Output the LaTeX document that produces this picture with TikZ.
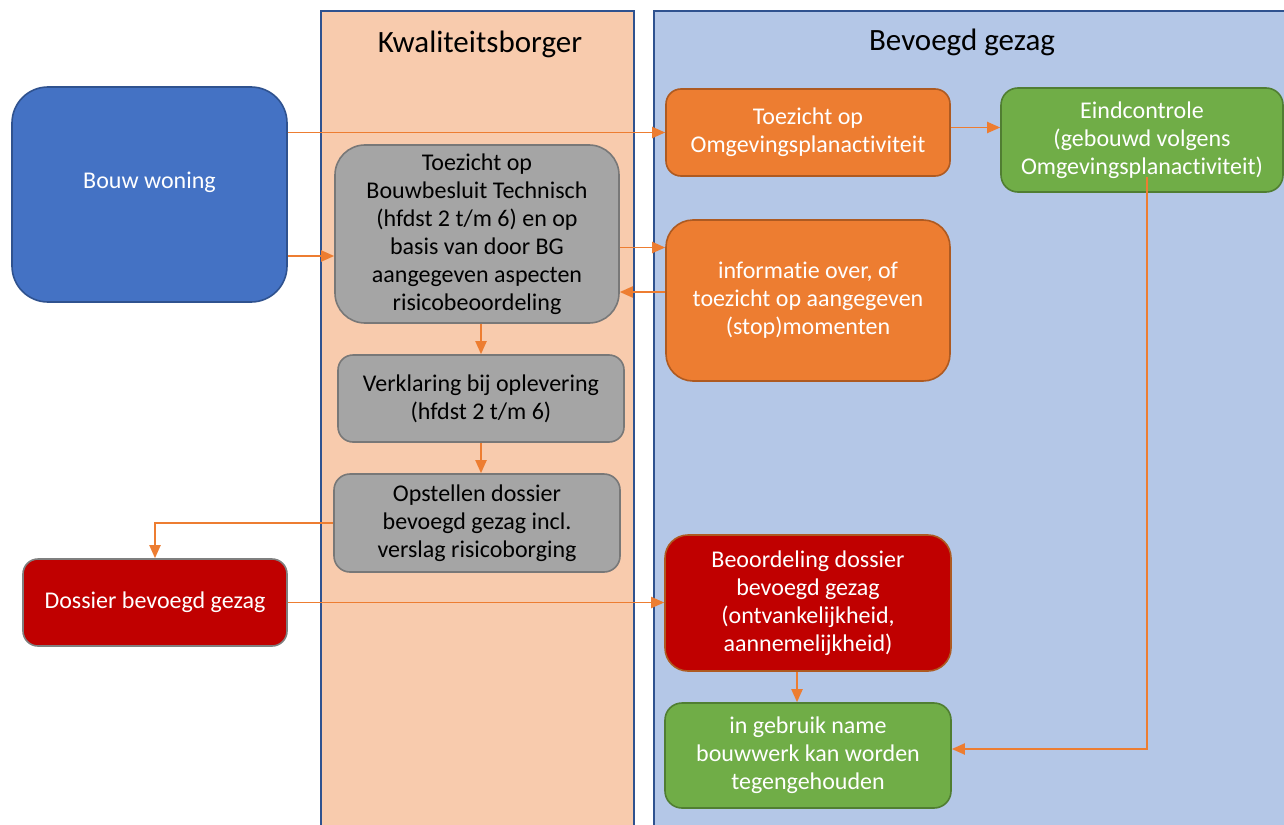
\documentclass[tikz,border=0pt]{standalone}
\usepackage{fontspec}
\setmainfont{Carlito}[Ligatures=NoCommon]
\usetikzlibrary{arrows.meta}
\definecolor{panK}{HTML}{F8CBAD}
\definecolor{panB}{HTML}{B4C7E7}
\definecolor{panLine}{HTML}{2F528F}
\definecolor{cBlue}{HTML}{4472C4}
\definecolor{cOrange}{HTML}{ED7D31}
\definecolor{cOrangeLine}{HTML}{AE5A21}
\definecolor{cGreen}{HTML}{70AD47}
\definecolor{cGreenLine}{HTML}{507E32}
\definecolor{cGrey}{HTML}{A5A5A5}
\definecolor{cGreyLine}{HTML}{787878}
\definecolor{cRed}{HTML}{C00000}
\definecolor{cRedLine}{HTML}{7F7F7F}
\begin{document}
\begin{tikzpicture}[x=1pt,y=-1pt,
  panel/.style={draw=panLine, line width=1.8pt, anchor=north west, inner sep=0pt},
  title/.style={font=\fontsize{31}{36}\selectfont, text=black, inner sep=0pt},
  box/.style={draw, line width=1.6pt, align=center, inner sep=0pt,
    font=\fontsize{24}{28}\selectfont},
  bluebox/.style={box, fill=cBlue, draw=panLine, text=white},
  orangebox/.style={box, fill=cOrange, draw=cOrangeLine, text=white},
  greenbox/.style={box, fill=cGreen, draw=cGreenLine, text=white},
  greybox/.style={box, fill=cGrey, draw=cGreyLine, text=black},
  redbox/.style={box, fill=cRed, draw=cRedLine, text=white},
  arr/.style={draw=cOrange, line width=1.9pt, -{Triangle[length=13pt,width=11pt]}}
]
\useasboundingbox (0,0) rectangle (1284,824);
\clip (0,0) rectangle (1284,824);
\fill[white] (0,0) rectangle (1284,824);

% panels
\node[panel, fill=panK, minimum width=313pt, minimum height=850pt] (pk) at (320,10) {};
\node[panel, fill=panB, minimum width=700pt, minimum height=850pt] (pb) at (653,10) {};
\node[title] (tk) at (480,44) {Kwaliteitsborger};
\node[title] (tb) at (962,42) {Bevoegd gezag};

% boxes
\node[bluebox, minimum width=275pt, minimum height=215pt, rounded corners=36pt] (bouw) at (149.5,194.5) {Bouw woning\\ \mbox{}};
\node[orangebox, minimum width=284pt, minimum height=87pt, rounded corners=15pt] (omg) at (808,132.5) {Toezicht op\\Omgevingsplanactiviteit};
\node[greenbox, minimum width=282pt, minimum height=104pt, rounded corners=17pt] (eind) at (1142,140) {Eindcontrole\\(gebouwd volgens\\Omgevingsplanactiviteit)};
\node[greybox, minimum width=284pt, minimum height=178pt, rounded corners=30pt] (tbb) at (477,234) {Toezicht op\\Bouwbesluit Technisch\\(hfdst 2 t/m 6) en op\\basis van door BG\\aangegeven aspecten\\risicobeoordeling};
\node[orangebox, minimum width=284pt, minimum height=161pt, rounded corners=27pt] (info) at (808,300.5) {informatie over, of\\toezicht op aangegeven\\(stop)momenten};
\node[greybox, minimum width=286pt, minimum height=87pt, rounded corners=15pt] (verk) at (481,398.5) {Verklaring bij oplevering\\(hfdst 2 t/m 6)};
\node[greybox, minimum width=286pt, minimum height=98pt, rounded corners=16pt] (opst) at (477,523) {Opstellen dossier\\bevoegd gezag incl.\\verslag risicoborging};
\node[redbox, minimum width=264pt, minimum height=87pt, rounded corners=15pt] (dossier) at (155,602.5) {Dossier bevoegd gezag};
\node[redbox, draw=cOrangeLine, minimum width=286pt, minimum height=136pt, rounded corners=23pt] (beoord) at (808,603) {Beoordeling dossier\\bevoegd gezag\\(ontvankelijkheid,\\aannemelijkheid)};
\node[greenbox, minimum width=286pt, minimum height=105pt, rounded corners=17pt] (gebruik) at (808,755.5) {in gebruik name\\bouwwerk kan worden\\tegengehouden};

% connectors
\coordinate (a2) at ([yshift=-22pt]tbb.west);
\coordinate (a3) at ([yshift=5pt]omg.east);
\coordinate (a4) at ([yshift=-13.5pt]tbb.east);
\coordinate (a5) at ([yshift=-58pt]tbb.east);
\coordinate (a10) at ([xshift=-11pt]beoord.south);
\coordinate (a11) at ([xshift=5pt,yshift=16pt]eind.south);
\coordinate (a11b) at ([yshift=6.5pt]gebruik.east);

\draw[arr] (bouw.east |- omg.west) -- (omg.west);
\draw[arr] (bouw.east |- a2) -- (a2);
\draw[arr] (a3) -- (a3 -| eind.west);
\draw[arr] (a4) -- (a4 -| info.west);
\draw[arr] (a5 -| info.west) -- (a5);
\draw[arr] (verk.north |- tbb.south) -- (verk.north);
\draw[arr] (verk.south) -- (verk.south |- opst.north);
\draw[arr] (opst.west) -| (dossier.north);
\draw[arr] (dossier.east) -- (dossier.east -| beoord.west);
\draw[arr] (a10) -- (a10 |- gebruik.north);
\draw[arr] (a11) |- (a11b);
\end{tikzpicture}
\end{document}
